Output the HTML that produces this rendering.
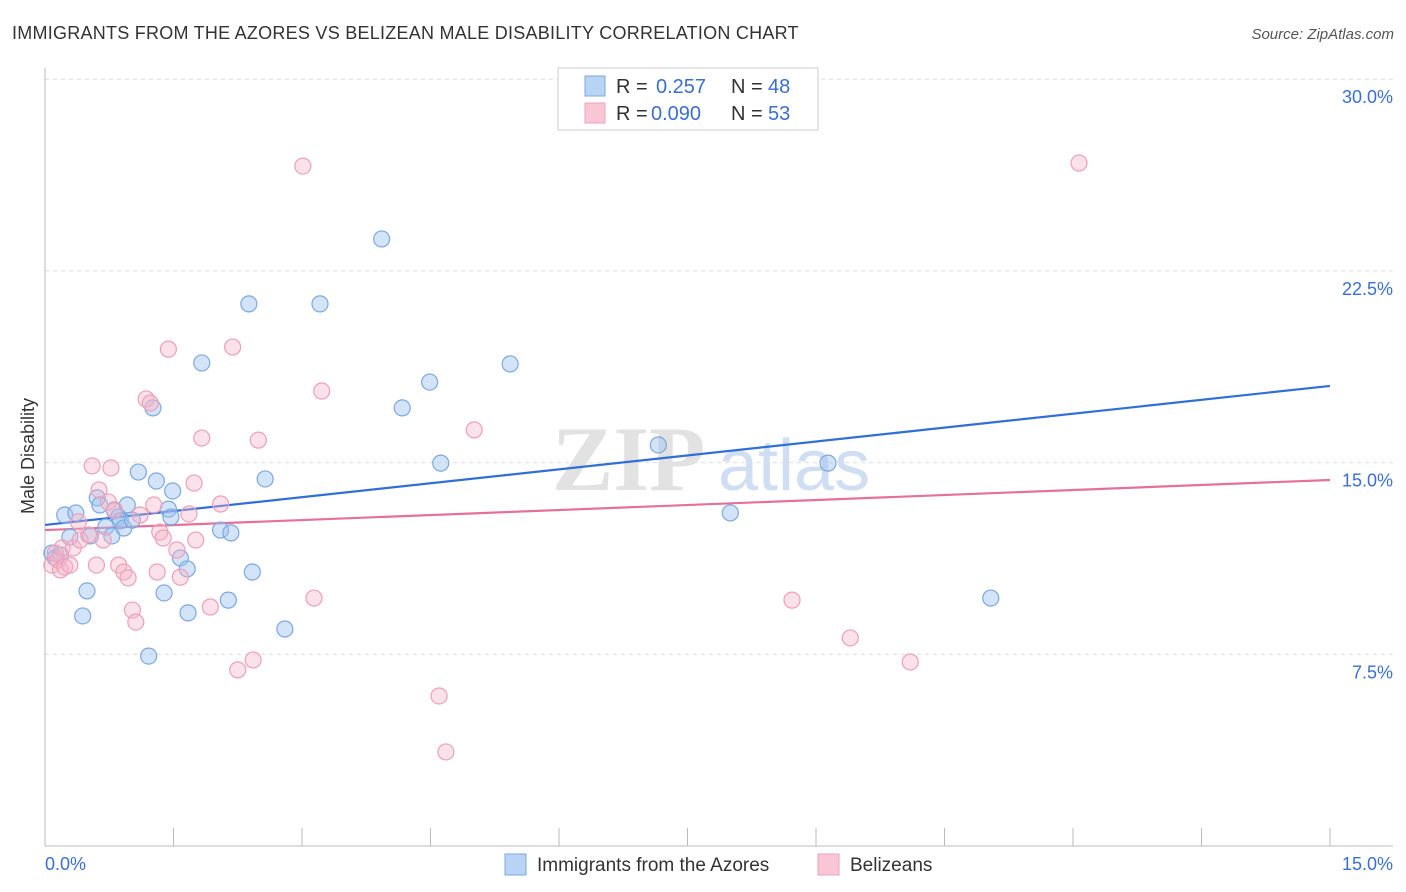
<!DOCTYPE html>
<html><head><meta charset="utf-8"><style>
body{margin:0;background:#fff;font-family:"Liberation Sans",sans-serif;}
#wrap{position:relative;width:1406px;height:892px;overflow:hidden;}
</style></head><body>
<div id="wrap">
<svg id="svg" width="1406" height="892" xmlns="http://www.w3.org/2000/svg">
<text x="12" y="39" font-size="18" fill="#333" letter-spacing="0.25">IMMIGRANTS FROM THE AZORES VS BELIZEAN MALE DISABILITY CORRELATION CHART</text>
<text x="1394" y="39" font-size="15" fill="#555" text-anchor="end" font-style="italic">Source: ZipAtlas.com</text>
<text x="34" y="456" font-size="18" fill="#333" text-anchor="middle" transform="rotate(-90 34 456)">Male Disability</text>
<g><text x="552" y="490" font-size="92" fill="#e2e2e2" font-family="Liberation Serif,serif" font-weight="bold">ZIP</text><text x="718" y="490" font-size="72" fill="#d0def3">atlas</text></g>
<g id="grid"></g>
<g id="axes"></g>
<g id="lines"></g>
<g id="pts"></g>
<g>
<rect x="558" y="68" width="260" height="62" fill="#fff" stroke="#ccc"/>
<rect x="585" y="76" width="20" height="20" fill="#b9d3f5" stroke="#7aa8e0"/>
<rect x="585" y="103" width="20" height="20" fill="#f9c6d5" stroke="#eea0b8"/>
<text x="616" y="93" font-size="20" fill="#333">R =</text>
<text x="656" y="93" font-size="20" fill="#3a6fd1">0.257</text>
<text x="731" y="93" font-size="20" fill="#333">N =</text>
<text x="768" y="93" font-size="20" fill="#3a6fd1">48</text>
<text x="616" y="120" font-size="20" fill="#333">R =</text>
<text x="651" y="120" font-size="20" fill="#3a6fd1">0.090</text>
<text x="731" y="120" font-size="20" fill="#333">N =</text>
<text x="768" y="120" font-size="20" fill="#3a6fd1">53</text>
</g>
<g>
<rect x="505" y="854" width="21" height="21" fill="#b9d3f5" stroke="#7aa8e0"/>
<text x="537" y="871" font-size="19" fill="#333">Immigrants from the Azores</text>
<rect x="818" y="854" width="21" height="21" fill="#f9c6d5" stroke="#eea0b8"/>
<text x="850" y="871" font-size="19" fill="#333">Belizeans</text>
</g>
</svg>
</div>
<script>
const yTicks=[7.5,15,22.5,30];
const yTickLabels=["7.5%","15.0%","22.5%","30.0%"];
const xTicks=[0,1.5,3,4.5,6,7.5,9,10.5,12,13.5,15];
const blueX=[0.08,0.12,0.18,0.23,0.29,0.36,0.44,0.49,0.53,0.61,0.64,0.71,0.78,0.81,0.86,0.88,0.92,0.96,1.02,1.09,1.21,1.26,1.30,1.39,1.44,1.47,1.49,1.58,1.66,1.67,1.83,2.05,2.14,2.17,2.38,2.42,2.57,2.80,3.21,3.93,4.17,4.49,4.62,5.43,7.16,8.00,9.14,11.04];
const blueY=[11.46,11.27,11.38,12.95,12.09,13.03,9.00,9.98,12.13,13.62,13.34,12.48,12.13,13.11,12.87,12.72,12.44,13.34,12.75,14.63,7.43,17.14,14.28,9.90,13.18,12.87,13.89,11.27,10.84,9.12,18.90,12.36,9.62,12.25,21.21,10.72,14.36,8.49,21.21,23.75,17.14,18.15,14.98,18.86,15.69,13.03,14.98,9.70];
const pinkX=[0.08,0.12,0.15,0.18,0.20,0.23,0.29,0.33,0.39,0.41,0.51,0.55,0.60,0.63,0.68,0.74,0.77,0.81,0.86,0.92,0.97,1.02,1.06,1.11,1.18,1.23,1.27,1.31,1.34,1.38,1.44,1.54,1.58,1.68,1.74,1.76,1.83,1.93,2.05,2.19,2.25,2.43,2.49,3.01,3.14,3.23,4.60,4.68,5.01,8.72,9.40,10.10,12.07];
const pinkY=[10.99,11.46,11.19,10.80,11.66,10.92,10.99,11.66,12.68,11.97,12.17,14.87,10.99,13.93,11.97,13.46,14.79,13.15,10.99,10.72,10.49,9.23,8.76,12.95,17.49,17.33,13.34,10.72,12.28,12.05,19.44,11.58,10.52,12.99,14.20,11.97,15.96,9.35,13.38,19.52,6.89,7.28,15.88,26.60,9.70,17.80,5.87,3.68,16.28,9.62,8.14,7.20,26.72];
const blueTrend=[12.56,18.0];
const pinkTrend=[12.36,14.32];
const NS="http://www.w3.org/2000/svg";
const X=v=>45+v/15*1285;
const Y=v=>846-v/7.5*191.7;
function mk(tag,attrs,parent){const e=document.createElementNS(NS,tag);for(const k in attrs)e.setAttribute(k,attrs[k]);document.getElementById(parent).appendChild(e);return e;}
yTicks.forEach((t,i)=>{
 const l=mk('line',{x1:45,x2:1393,y1:Y(t),y2:Y(t),stroke:'#ddd','stroke-dasharray':'4,4'},'grid');
 
 
 const tx=mk('text',{x:1393,y:Y(t)+24,'font-size':18,fill:'#3a6fd1','text-anchor':'end'},'grid');
 tx.textContent=yTickLabels[i];
 
 
});
const ya=mk('line',{x1:45,x2:45,y1:68,y2:846,stroke:'#bbb'},'axes');


const xa=mk('line',{x1:45,x2:1393,y1:846,y2:846,stroke:'#bbb'},'axes');


xTicks.forEach(t=>{
 const l=mk('line',{x1:X(t),x2:X(t),y1:828,y2:846,stroke:'#bbb'},'axes');
 
 
});
const xl0=mk('text',{x:45,y:870,'font-size':18,fill:'#3a6fd1'},'axes');xl0.textContent='0.0%';


const xl1=mk('text',{x:1393,y:870,'font-size':18,fill:'#3a6fd1','text-anchor':'end'},'axes');xl1.textContent='15.0%';


function pts(xs,ys,fill,stroke,name){xs.forEach((x,i)=>{
 const c=mk('circle',{cx:X(x),cy:Y(ys[i]),r:8,fill:fill,stroke:stroke,'stroke-width':1.2},'pts');
 
 
});}
pts(blueX,blueY,'rgba(160,196,240,0.45)','#7aa8e0','point-azores');
pts(pinkX,pinkY,'rgba(245,180,200,0.4)','#eea0b8','point-belizeans');
const bl=mk('line',{x1:X(0),x2:X(15),y1:Y(blueTrend[0]),y2:Y(blueTrend[1]),stroke:'#2f6fd6','stroke-width':2.2},'lines');


const pl=mk('line',{x1:X(0),x2:X(15),y1:Y(pinkTrend[0]),y2:Y(pinkTrend[1]),stroke:'#e5709a','stroke-width':2.2},'lines');


</script>
</body></html>
